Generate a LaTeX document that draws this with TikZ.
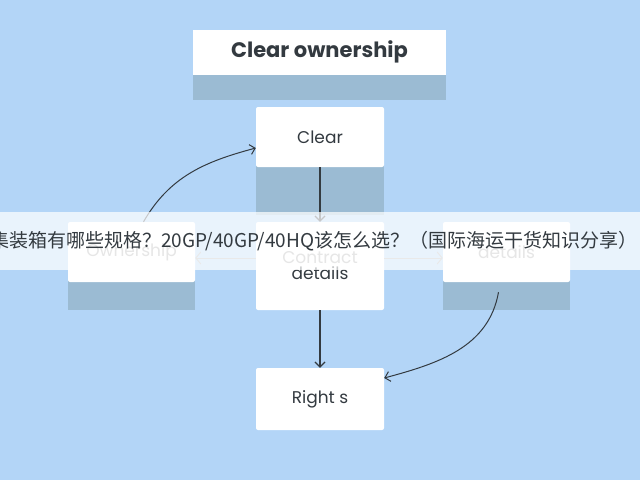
\documentclass[tikz,border=0pt]{standalone}
\usepackage{fontspec}
\setmainfont{Poppins}
\newfontfamily\cjk{Noto Sans CJK SC}
\usetikzlibrary{positioning,arrows.meta}
\definecolor{bgblue}{HTML}{B3D5F7}
\definecolor{shadowblue}{HTML}{9BBBD3}
\definecolor{inkgray}{HTML}{333A40}
\begin{document}
\begin{tikzpicture}[x=1pt,y=-1pt,
    card/.style={draw=none,fill=white,rounded corners=2pt,minimum width=128pt,text=inkgray,align=center,font=\fontsize{17}{18}\selectfont},
    shadow/.style={fill=shadowblue},
    flow/.style={-{Straight Barb[length=5pt,width=10pt]},line width=1.2pt,draw=inkgray},
    side/.style={-{Straight Barb[length=5pt,width=12pt]},line width=1pt,draw=gray!60}]
  \fill[bgblue] (0,0) rectangle (640,480);
  \useasboundingbox (0,0) rectangle (640,480);
  % shadows
  \fill[shadow] (193,75) rectangle (446,100);
  \fill[shadow] (256,160) rectangle (384,215);
  \fill[shadow] (68,275) rectangle (195,310);
  \fill[shadow] (443,275) rectangle (570,310);
  % cards
  \node[card,minimum width=253pt,minimum height=45pt,rounded corners=0pt,font=\fontsize{21}{23}\selectfont\bfseries] (title) at (319.5,52) {Clear ownership};
  \node[card,minimum height=60pt] (clear) at (320,137) {Clear};
  \node[card,minimum height=88pt,text=gray!70] (contract) at (320,266) {Contract\\[-2pt]\textcolor{inkgray}{details}};
  \node[card,minimum width=127pt,minimum height=60pt,text=gray!70] (owner) at (131.5,252) {Ownership};
  \node[card,minimum width=127pt,minimum height=60pt,text=gray!70] (details) at (506.5,252) {details};
  \node[card,minimum height=62pt] (rights) at (320,399) {Right s};
  % connectors
  \draw[flow] (clear) -- (contract);
  \draw[flow] (contract) -- (rights);
  \draw[side] (contract.west |- 0,258) -- (owner.east |- 0,258);
  \draw[side] (contract.east |- 0,258) -- (details.west |- 0,258);
  \draw[flow,line width=1pt] (owner.north) ++(12,0) coordinate (o1) (o1) to[out=60,in=195] (clear.west |- 0,148);
  \draw[flow,line width=1pt] (details.south) ++(-8,10) coordinate (d1) (d1) to[out=-100,in=15] (rights.east |- 0,378);
  % banner
  \fill[white,opacity=0.72] (0,212) rectangle (640,270);
  \node[text=inkgray,font=\cjk\fontsize{19}{21}\selectfont,anchor=west,inner sep=0pt] (banner) at (-10,241) {集装箱有哪些规格？20GP/40GP/40HQ该怎么选？（国际海运干货知识分享）};
\end{tikzpicture}
\end{document}
